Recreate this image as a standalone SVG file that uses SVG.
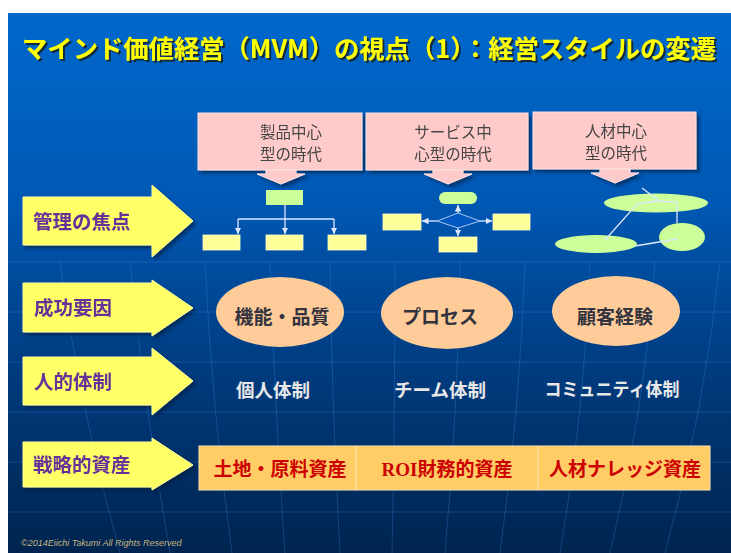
<svg xmlns="http://www.w3.org/2000/svg" width="731" height="553" viewBox="0 0 731 553">
<defs>
<linearGradient id="bg" x1="0" y1="0" x2="0" y2="1">
<stop offset="0" stop-color="#0068cc"/>
<stop offset="0.35" stop-color="#0058b4"/>
<stop offset="0.65" stop-color="#003c80"/>
<stop offset="1" stop-color="#00244f"/>
</linearGradient>
<filter id="sh" x="-10%" y="-10%" width="130%" height="140%">
<feDropShadow dx="3" dy="3" stdDeviation="1.5" flood-color="#001a40" flood-opacity="0.6"/>
</filter>
<filter id="tsh" filterUnits="userSpaceOnUse" x="8" y="20" width="723" height="60">
<feDropShadow dx="2" dy="2" stdDeviation="0.7" flood-color="#1a1a1a" flood-opacity="0.8"/>
</filter>
<marker id="ah" viewBox="0 0 6 6" refX="6" refY="3" markerWidth="5" markerHeight="5" orient="auto">
<path d="M0,0 L6,3 L0,6 z" fill="#dde8ff"/>
</marker>
</defs>
<style>
.jp{font-family:"Noto Sans CJK JP","Noto Sans",sans-serif;font-weight:bold}
.ttl{font-size:25px}
.pink{fill:#ffcaca;stroke:#ffe2e2;stroke-width:1}
.ptxt{font-size:15.5px;fill:#444;font-weight:normal;text-anchor:middle}
.yarrow{fill:#ffff66;stroke:#ffff99;stroke-width:1}
.ltxt{font-size:19.5px;fill:#663399}
.green{fill:#ccff99}
.yel{fill:#ffff99;stroke:#ffffcc;stroke-width:0.8}
.peach{fill:#ffcc99}
.etxt{font-size:19px;fill:#333340;text-anchor:middle}
.wtxt{font-size:18.5px;fill:#e8e8e8;text-anchor:middle}
.atxt{font-size:19px;fill:#cc0000;text-anchor:middle}
.con{stroke:#dde8ff;stroke-width:1.3;fill:none}
.grid{stroke:#3c8ae0;stroke-width:1;fill:none;opacity:0.3}
</style>
<rect x="0" y="0" width="731" height="553" fill="#ffffff"/>
<rect x="8" y="13" width="723" height="540" fill="url(#bg)"/>
<g id="grid">
<path class="grid" d="M8,262 H731 M8,312 H731 M8,362 H731 M8,412 H731 M8,462 H731 M8,512 H731"/>
<path class="grid" d="M60,262 Q80,410 120,553 M130,262 Q145,410 170,553 M205,262 Q212,410 232,553 M270,262 Q275,410 285,553 M330,262 Q332,410 340,553 M395,262 Q395,410 392,553 M460,262 Q458,410 445,553 M525,262 Q520,410 500,553 M590,262 Q585,410 560,553 M655,262 Q645,410 610,553 M720,262 Q705,410 665,553"/>
</g>
<g id="title">
<text class="jp ttl" x="22" y="58" fill="#ffff00" textLength="694" lengthAdjust="spacingAndGlyphs" filter="url(#tsh)">マインド価値経営（MVM）の視点（1）：経営スタイルの変遷</text>
</g>
<g id="era1" filter="url(#sh)">
<rect class="pink" x="198" y="113" width="164" height="57"/>
<polygon class="pink" points="266,170 296,170 296,174 305,174 281,184 257,174 266,174"/>
<text class="jp ptxt" x="291" y="138">製品中心</text>
<text class="jp ptxt" x="291" y="160">型の時代</text>
</g>
<g id="era2" filter="url(#sh)">
<rect class="pink" x="366" y="113" width="162" height="57"/>
<polygon class="pink" points="433,170 463,170 463,174 472,174 448,184 424,174 433,174"/>
<text class="jp ptxt" x="453" y="138">サービス中</text>
<text class="jp ptxt" x="453" y="160">心型の時代</text>
</g>
<g id="era3" filter="url(#sh)">
<rect class="pink" x="533" y="112" width="163" height="57"/>
<polygon class="pink" points="600,169 630,169 630,173 639,173 615,183 591,173 600,173"/>
<text class="jp ptxt" x="616" y="137">人材中心</text>
<text class="jp ptxt" x="616" y="159">型の時代</text>
</g>
<g id="label-focus" filter="url(#sh)">
<polygon class="yarrow" points="23,197 152,197 152,185 193,221 152,257 152,245 23,245"/>
<text class="jp ltxt" x="33" y="229">管理の焦点</text>
</g>
<g id="label-success" filter="url(#sh)">
<polygon class="yarrow" points="23,283 152,283 152,280 193,308 152,336 152,332 23,332"/>
<text class="jp ltxt" x="34" y="315">成功要因</text>
</g>
<g id="label-people" filter="url(#sh)">
<polygon class="yarrow" points="23,357 152,357 152,348 193,381 152,415 152,405 23,405"/>
<text class="jp ltxt" x="34" y="389">人的体制</text>
</g>
<g id="label-assets" filter="url(#sh)">
<polygon class="yarrow" points="23,442 152,442 152,438 193,465 152,490 152,487 23,487"/>
<text class="jp ltxt" x="33" y="472">戦略的資産</text>
</g>
<g id="org-tree">
<rect class="green" x="266" y="190" width="37" height="15"/>
<rect class="yel" x="203" y="235" width="37" height="15"/>
<rect class="yel" x="266" y="235" width="37" height="15"/>
<rect class="yel" x="328" y="235" width="38" height="15"/>
</g>
<g id="process-flow">
<rect class="green" x="439" y="192" width="38" height="12" rx="6"/>
<polygon points="437,221 458,213 480,221 458,228" fill="#0058c0" stroke="#a8c8f0" stroke-width="1"/>
<rect class="yel" x="383" y="214" width="38" height="16"/>
<rect class="yel" x="493" y="214" width="37" height="16"/>
<rect class="yel" x="439" y="237" width="38" height="15"/>
</g>
<g id="community-net">
<ellipse class="green" cx="656" cy="203" rx="52" ry="9.5"/>
<ellipse class="green" cx="596" cy="244" rx="41" ry="9"/>
<ellipse class="green" cx="682" cy="237" rx="23" ry="14"/>
</g>
<g id="connectors">
<path class="con" d="M285,205 V234" marker-end="url(#ah)"/>
<path class="con" d="M238,219 H334"/>
<path class="con" d="M238,219 V234" marker-end="url(#ah)"/>
<path class="con" d="M334,219 V234" marker-end="url(#ah)"/>
<path class="con" d="M458,213 V205" marker-end="url(#ah)"/>
<path class="con" d="M437,221 H422" marker-end="url(#ah)"/>
<path class="con" d="M480,221 H492" marker-end="url(#ah)"/>
<path class="con" d="M458,228 V236" marker-end="url(#ah)"/>
<path class="con" d="M642,188 L658,200"/>
<path class="con" d="M605,240 L637,204 L656,201 L677,202 V223"/>
<path class="con" d="M635,246 L677,239"/>
</g>
<g id="factor1">
<ellipse class="peach" cx="280" cy="312" rx="64" ry="35"/>
<text class="jp etxt" x="282" y="324">機能・品質</text>
</g>
<g id="factor2">
<ellipse class="peach" cx="447" cy="313" rx="66" ry="36"/>
<text class="jp etxt" x="440" y="324">プロセス</text>
</g>
<g id="factor3">
<ellipse class="peach" cx="616" cy="311" rx="64" ry="35"/>
<text class="jp etxt" x="615" y="324">顧客経験</text>
</g>
<g id="people1"><text class="jp wtxt" x="273" y="397">個人体制</text></g>
<g id="people2"><text class="jp wtxt" x="440" y="397">チーム体制</text></g>
<g id="people3"><text class="jp wtxt" x="612" y="396" textLength="135" lengthAdjust="spacingAndGlyphs">コミュニティ体制</text></g>
<g id="assets">
<rect x="199" y="446" width="511" height="44" fill="#ffcc66" stroke="#ffe6b0" stroke-width="1"/>
<path d="M356,446 V490 M538,446 V490" stroke="#ffe6b0" stroke-width="1.2"/>
<text class="jp atxt" x="280" y="476">土地・原料資産</text>
<text class="jp atxt" x="447" y="476"><tspan font-family="Liberation Serif,serif">ROI</tspan>財務的資産</text>
<text class="jp atxt" x="625" y="476">人材ナレッジ資産</text>
</g>
<g id="copyright">
<text x="21" y="546" font-family="Liberation Sans,Arial,sans-serif" font-style="italic" font-size="9" fill="#c8b480">©2014Eiichi Takumi All Rights Reserved</text>
</g>
</svg>
